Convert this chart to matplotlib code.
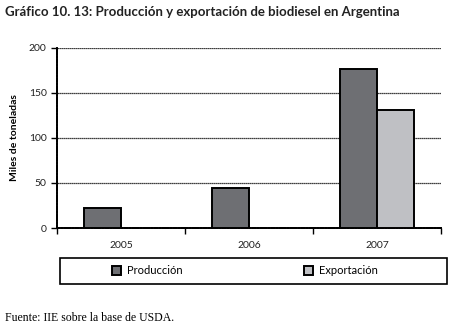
import matplotlib
matplotlib.use("Agg")
import matplotlib.pyplot as plt
from matplotlib.patches import Rectangle
import numpy as np

# data (miles de toneladas)
years = ["2005", "2006", "2007"]
produccion = [22, 44, 177]
exportacion = [0, 0, 131]
y_ticks = [0, 50, 100, 150, 200]

PROD_COLOR = "#6e6f73"
EXPO_COLOR = "#bfc0c4"
SANS = ["Lato", "DejaVu Sans"]
SERIF = ["Liberation Serif", "DejaVu Serif"]

fig = plt.figure(figsize=(4.5, 3.28), dpi=100)
ax = fig.add_axes([57 / 450, 100 / 328, 384 / 450, 180 / 328])

x = np.arange(len(years))
width = 1 / 3.5  # excel gap width 150%
ax.bar(x - width / 2, produccion, width, color=PROD_COLOR, edgecolor="black",
       linewidth=1.4, label="Producción", zorder=3)
expo_x = [xi + width / 2 for xi, v in zip(x, exportacion) if v > 0]
expo_v = [v for v in exportacion if v > 0]
ax.bar(expo_x, expo_v, width, color=EXPO_COLOR, edgecolor="black",
       linewidth=1.4, label="Exportación", zorder=3)

ax.set_xlim(-0.5, len(years) - 0.5)
ax.set_ylim(0, 200)
ax.set_yticks(y_ticks)
ax.set_yticklabels([str(t) for t in y_ticks], fontsize=7.5, family=SANS, color="#222222")
ax.yaxis.grid(True, color="black", linestyle=(0, (1, 0.6)), linewidth=0.9, zorder=1)
ax.set_axisbelow(True)

# category labels at centres, ticks at boundaries
ax.set_xticks(x)
ax.set_xticklabels(years, fontsize=7.5, family=SANS, color="#222222")
ax.tick_params(axis="x", length=0, pad=9)
ax.set_xticks(np.arange(len(years) + 1) - 0.5, minor=True)
ax.tick_params(axis="x", which="minor", length=4, width=1, direction="out", color="black")
ax.tick_params(axis="y", length=4, width=1, color="black")

for side in ("top", "right"):
    ax.spines[side].set_visible(False)
for side in ("left", "bottom"):
    ax.spines[side].set_linewidth(1.4)
    ax.spines[side].set_linestyle((0, (1, 0.4)))

ax.set_ylabel("Miles de toneladas", fontsize=7.5, fontweight="bold", family=SANS, labelpad=7)

# legend box spanning the chart width, entries spread inside it
fig.patches.append(Rectangle((60 / 450, 1 - 284 / 328), 387 / 450, 26 / 328,
                             transform=fig.transFigure, fill=False,
                             edgecolor="black", linewidth=1.2))
fig.legend(loc="center", ncol=2, frameon=False,
           bbox_to_anchor=(245 / 450, 1 - 271 / 328),
           prop={"family": SANS, "size": 8}, handlelength=0.8, handleheight=0.8,
           borderaxespad=0, handletextpad=0.5, columnspacing=11)

fig.text(5 / 450, 1 - 12 / 328, "Gráfico 10. 13: Producción y exportación de biodiesel en Argentina",
         fontsize=9.5, fontweight="bold", family=SANS, va="center", ha="left", color="#222222")
fig.text(5 / 450, 1 - 318 / 328, "Fuente: IIE sobre la base de USDA.",
         fontsize=8.5, family=SERIF, va="center", ha="left")

fig.savefig("out.png", dpi=100)
